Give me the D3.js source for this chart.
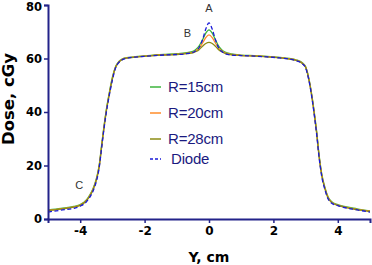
<!DOCTYPE html>
<html>
<head>
<meta charset="utf-8">
<script src="https://cdn.jsdelivr.net/npm/d3@7"></script>
<style>
  body { margin: 0; background: #fff; }
  svg { display: block; }
</style>
</head>
<body>
<div id="chart"></div>
<script>
// off-axis position, cm
const positions = [-5, -4.6, -4.2, -4.0, -3.8, -3.7, -3.6, -3.5, -3.45, -3.4, -3.35, -3.3, -3.2, -3.1, -3.0, -2.9, -2.8, -2.7, -2.5, -2.2, -1.8, -1.4, -1.0, -0.7, -0.5, -0.4, -0.3, -0.2, -0.1, 0,
  0.1, 0.2, 0.3, 0.4, 0.5, 0.7, 1.0, 1.4, 1.8, 2.2, 2.5, 2.7, 2.9, 3.0, 3.1, 3.2, 3.3, 3.35, 3.4, 3.45, 3.5, 3.6, 3.7, 3.8, 4.0, 4.2, 4.6, 5];

// dose, cGy
const r15 = [3.4, 4.0, 4.7, 5.4, 7.2, 9.0, 11.4, 15, 17.5, 21, 26, 31, 40, 47, 53, 57, 58.9, 59.8, 60.4, 60.8, 61.2, 61.5, 61.8, 62.2, 62.7, 63.5, 64.8, 67, 69.5, 70.7,
  69.5, 67, 64.6, 63.2, 62.4, 61.7, 61.3, 61.1, 60.8, 60.4, 60.0, 59.5, 58.4, 57, 52.6, 45.8, 37, 32, 26, 21, 17, 11.8, 8.2, 6.6, 5.4, 4.7, 3.8, 3.0];
const r20 = [3.2, 3.8, 4.5, 5.2, 7.0, 8.8, 11.1, 14.7, 17.2, 20.6, 25.6, 30.6, 39.6, 46.6, 52.6, 56.8, 58.7, 59.7, 60.3, 60.7, 61.1, 61.4, 61.6, 61.9, 62.3, 63, 64, 65.8, 67.8, 68.8,
  67.8, 65.8, 63.9, 62.8, 62.1, 61.5, 61.2, 61.0, 60.7, 60.3, 59.9, 59.4, 58.2, 56.8, 52.4, 45.5, 36.6, 31.6, 25.6, 20.6, 16.6, 11.5, 8.0, 6.4, 5.2, 4.5, 3.6, 2.9];
const r28 = [3.1, 3.7, 4.4, 5.1, 6.9, 8.6, 10.9, 14.5, 17, 20.4, 25.4, 30.4, 39.4, 46.4, 52.4, 56.7, 58.6, 59.6, 60.2, 60.6, 61.0, 61.3, 61.5, 61.8, 62.1, 62.6, 63.4, 64.6, 65.6, 66,
  65.6, 64.6, 63.3, 62.5, 61.9, 61.4, 61.1, 60.9, 60.6, 60.2, 59.8, 59.3, 58.1, 56.7, 52.2, 45.3, 36.4, 31.4, 25.4, 20.4, 16.4, 11.3, 7.8, 6.3, 5.1, 4.4, 3.5, 2.8];
const diode = [2.6, 3.3, 4.0, 4.8, 6.5, 8.2, 10.5, 14, 16.5, 20, 25, 30, 39, 46, 52, 56.5, 58.5, 59.5, 60.2, 60.6, 61.0, 61.3, 61.5, 61.8, 62.3, 63, 64.2, 67, 71, 73.3,
  71, 67, 64, 62.6, 61.8, 61.3, 61.1, 60.9, 60.6, 60.2, 59.8, 59.2, 58, 56.5, 52, 45, 36, 31, 25, 20, 16, 11, 7.5, 6.0, 5.0, 4.3, 3.4, 2.6];

const seriesNames = ["R=15cm", "R=20cm", "R=28cm", "Diode"];
const seriesValues = [r15, r20, r28, diode];
const seriesColors = ["#3cb43c", "#ff8c2a", "#8c8c14", "#1a1ad8"];

const xTicks = [-4, -2, 0, 2, 4];
const yTicks = [0, 20, 40, 60, 80];

const notes = [
  { label: "A", x: 0, y: 78.8 },
  { label: "B", x: -0.67, y: 69.5 },
  { label: "C", x: -4.03, y: 12.7 }
];

const width = 372, height = 265;
const axisColor = "#23238a";

const svg = d3.select("#chart").append("svg")
  .attr("width", width)
  .attr("height", height);

const x = d3.scaleLinear().domain([-5, 5]).range([48, 370]);
const y = d3.scaleLinear().domain([0, 80]).range([219, 5]);

// curves
const line = d3.line()
  .x(function(d) { return x(d[0]); })
  .y(function(d) { return y(d[1]); })
  .curve(d3.curveMonotoneX);

seriesValues.forEach(function(vals, i) {
  svg.append("path")
    .datum(positions.map(function(p, j) { return [p, vals[j]]; }))
    .attr("fill", "none")
    .attr("stroke", seriesColors[i])
    .attr("stroke-width", 1.3)
    .attr("stroke-dasharray", seriesNames[i] === "Diode" ? "4,2.5" : null)
    .attr("d", line);
});

// axes
const yAxis = svg.append("g")
  .attr("transform", "translate(48,0)")
  .call(d3.axisLeft(y).tickValues(yTicks).tickSize(4).tickPadding(2));
const xAxis = svg.append("g")
  .attr("transform", "translate(0,219)")
  .call(d3.axisBottom(x).tickValues(xTicks).tickSize(4).tickPadding(3)
    .tickFormat(function(d) { return d < 0 ? "-" + Math.abs(d) : d; }));

[yAxis, xAxis].forEach(function(g) {
  g.select(".domain").attr("stroke", axisColor).attr("stroke-width", 2);
  g.selectAll(".tick line").attr("stroke", axisColor).attr("stroke-width", 1.5);
  g.selectAll(".tick text")
    .attr("fill", "#000")
    .style("font-family", "DejaVu Sans")
    .style("font-weight", "bold")
    .style("font-size", "12px");
});
yAxis.selectAll(".tick text").style("font-size", "11.5px");
// keep the top label inside the window
yAxis.selectAll(".tick text").filter(function(d) { return d === 80; }).attr("dy", "0.5em");

// axis titles
svg.append("text")
  .attr("transform", "translate(14,99) rotate(-90)")
  .attr("text-anchor", "middle")
  .style("font-family", "DejaVu Sans")
  .style("font-weight", "bold")
  .style("font-size", "16.5px")
  .text("Dose, cGy");

svg.append("text")
  .attr("x", 209)
  .attr("y", 262)
  .attr("text-anchor", "middle")
  .style("font-family", "DejaVu Sans")
  .style("font-weight", "bold")
  .style("font-size", "14px")
  .text("Y, cm");

// legend
const legendY = [87, 113, 139, 159];
seriesNames.forEach(function(name, i) {
  svg.append("line")
    .attr("x1", 150).attr("x2", 161)
    .attr("y1", legendY[i]).attr("y2", legendY[i])
    .attr("stroke", seriesColors[i])
    .attr("stroke-width", 1.5)
    .attr("stroke-dasharray", name === "Diode" ? "3,2" : null);
  svg.append("text")
    .attr("x", name === "Diode" ? 171 : 168)
    .attr("y", legendY[i] + 5)
    .attr("fill", "#1a1a80")
    .style("font-family", "Liberation Sans")
    .style("font-size", "15px")
    .style("letter-spacing", "-0.2px")
    .text(name);
});

// point labels
notes.forEach(function(n) {
  svg.append("text")
    .attr("x", x(n.x))
    .attr("y", y(n.y) + 4)
    .attr("text-anchor", "middle")
    .attr("fill", "#333")
    .style("font-family", "Liberation Sans")
    .style("font-size", "11px")
    .text(n.label);
});
</script>
</body>
</html>
